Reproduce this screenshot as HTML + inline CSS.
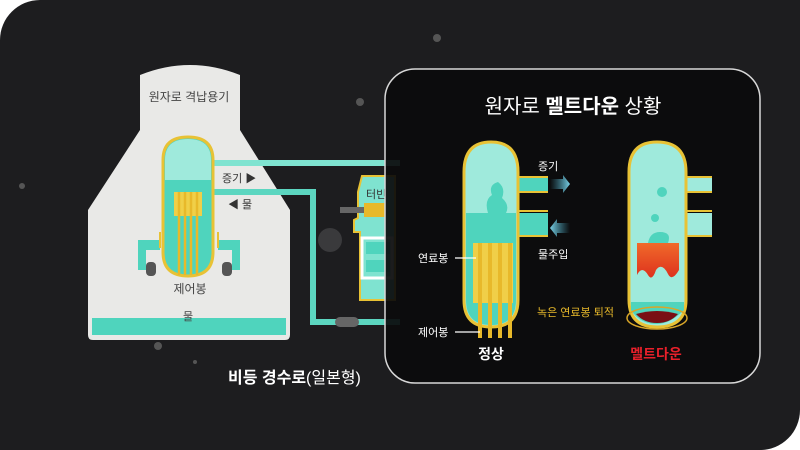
<!DOCTYPE html>
<html><head><meta charset="utf-8"><style>
html,body{margin:0;padding:0;background:#fff;}
#c{position:relative;width:800px;height:450px;overflow:hidden;background:#fff;}
#bg{position:absolute;left:0;top:0;width:800px;height:450px;background:#1d1d1f;border-radius:40px 0 40px 0;overflow:hidden;}
svg text{font-family:"Liberation Sans","Noto Sans CJK KR",sans-serif;}
</style></head><body><div id="c"><div id="bg">
<svg width="800" height="450" viewBox="0 0 800 450" xmlns="http://www.w3.org/2000/svg">
<defs><filter id="bl"><feGaussianBlur stdDeviation="3"/></filter>
<linearGradient id="ar" x1="0" x2="1"><stop offset="0" stop-color="#3fa0b8" stop-opacity="0"/><stop offset="1" stop-color="#7ad0e6"/></linearGradient>
<linearGradient id="al" x1="1" x2="0"><stop offset="0" stop-color="#3fa0b8" stop-opacity="0"/><stop offset="1" stop-color="#7ad0e6"/></linearGradient>
<linearGradient id="fr" x1="0" y1="0" x2="0" y2="1"><stop offset="0" stop-color="#f06a2a"/><stop offset="1" stop-color="#d8211a"/></linearGradient></defs>
<!-- dots -->
<g fill="#555"><circle cx="437" cy="38" r="4"/><circle cx="360" cy="102" r="4"/><circle cx="22" cy="186" r="3"/><circle cx="158" cy="346" r="4"/><circle cx="330" cy="240" r="12" fill="#3a3a3c"/><circle cx="195" cy="362" r="2"/></g>
<!-- containment -->
<path d="M140 75 Q190 55 240 75 L240 130 L290 210 L290 335 Q290 340 285 340 L93 340 Q88 340 88 335 L88 210 L140 130 Z" fill="#e9e9e7"/>
<rect x="92" y="318" width="194" height="17" fill="#4fd4bd"/>
<text x="189" y="101" font-size="12" fill="#444" text-anchor="middle">원자로 격납용기</text>
<!-- pipes -->
<path d="M213 163 L400 163" stroke="#7fe3d0" stroke-width="6" fill="none"/>
<path d="M213 192 L313 192 L313 322 L400 322" stroke="#5cd6c0" stroke-width="6" fill="none"/>
<rect x="335" y="317" width="24" height="10" rx="5" fill="#666"/>
<text x="222" y="182" font-size="11" fill="#333">증기 ▶</text>
<text x="228" y="208" font-size="11" fill="#333">◀ 물</text>
<!-- side brackets -->
<path d="M138 240 L160 240 L160 250 L146 250 L146 270 L138 270 Z M240 240 L218 240 L218 250 L232 250 L232 270 L240 270 Z" fill="#4fd4bd"/>
<path d="M160 232 L160 248 M218 232 L218 248" stroke="#e8c235" stroke-width="2"/>
<rect x="146" y="262" width="10" height="14" rx="4" fill="#555"/><rect x="222" y="262" width="10" height="14" rx="4" fill="#555"/>
<!-- reactor vessel -->
<path d="M163 160 Q163 137 188 137 Q213 137 213 160 L213 252 Q213 276 188 276 Q163 276 163 252 Z" fill="#4fd4bd" stroke="#e8c235" stroke-width="3"/>
<path d="M165 160 Q165 139 188 139 Q211 139 211 160 L211 180 L165 180 Z" fill="#9feadc"/>
<rect x="174" y="192" width="28" height="24" fill="#f0cf48"/>
<g stroke="#e8b92a" stroke-width="2.5"><line x1="179" y1="192" x2="179" y2="275"/><line x1="185" y1="192" x2="185" y2="275"/><line x1="191" y1="192" x2="191" y2="275"/><line x1="197" y1="192" x2="197" y2="275"/></g>
<text x="190" y="293" font-size="12" fill="#444" text-anchor="middle">제어봉</text>
<text x="188" y="320" font-size="11" fill="#444" text-anchor="middle">물</text>
<!-- turbine -->
<path d="M362 176 L395 176 L395 300 L360 300 L360 232 L354 232 L354 220 L358 218 L358 192 Z" fill="#7fe3d0" stroke="#e8c235" stroke-width="2"/>
<rect x="340" y="207" width="30" height="6" fill="#666"/>
<rect x="364" y="203" width="22" height="14" fill="#e8b92a"/>
<text x="366" y="198" font-size="11" fill="#333">터빈</text>
<rect x="362" y="238" width="30" height="40" fill="none" stroke="#fff" stroke-width="3"/>
<rect x="366" y="242" width="24" height="12" fill="#4fd4bd"/><rect x="366" y="260" width="24" height="12" fill="#4fd4bd"/>
<!-- caption -->
<text x="228" y="383" font-size="16" fill="#fff"><tspan font-weight="bold">비등 경수로</tspan>(일본형)</text>
<!-- panel -->
<rect x="385" y="69" width="375" height="314" rx="30" fill="#0b0b0c" fill-opacity="0.93" stroke="#d8d8d8" stroke-width="1.5"/>
<text x="573" y="113" font-size="20" fill="#fff" text-anchor="middle">원자로 <tspan font-weight="bold">멜트다운</tspan> 상황</text>
<!-- left vessel -->
<path d="M518 177 L548 177 L548 192 L518 192 Z M518 213 L548 213 L548 235 L518 235 Z" fill="#4fd4bd"/>
<path d="M518 177 L548 177 M518 192 L548 192" stroke="#e8c235" stroke-width="2"/>
<path d="M518 211 L548 211 M518 236 L548 236" stroke="#e8c235" stroke-width="2"/>
<path d="M464 172 Q464 142 491 142 Q518 142 518 172 L518 300 Q518 327 491 327 Q464 327 464 300 Z" fill="#9feadc" stroke="#e8c235" stroke-width="3"/>
<path d="M466 213 L516 213 L516 300 Q516 325 491 325 Q466 325 466 300 Z" fill="#4fd4bd"/>
<path d="M488 213 Q484 200 492 195 Q488 185 498 182 Q506 188 502 198 Q510 205 506 213 Z" fill="#4fd4bd"/>
<rect x="473" y="243" width="40" height="60" fill="#f0cf48"/>
<g stroke="#e8b92a" stroke-width="4"><line x1="480" y1="243" x2="480" y2="338"/><line x1="490" y1="243" x2="490" y2="338"/><line x1="500" y1="243" x2="500" y2="338"/><line x1="510" y1="243" x2="510" y2="338"/></g>
<path d="M550 179 L563 179 L563 175 L570 184 L563 193 L563 189 L550 189 Z" fill="url(#ar)"/>
<path d="M570 223 L557 223 L557 219 L550 228 L557 237 L557 233 L570 233 Z" fill="url(#al)"/>
<text x="538" y="170" font-size="11" fill="#fff">증기</text>
<text x="538" y="258" font-size="11" fill="#fff">물주입</text>
<text x="418" y="262" font-size="11" fill="#fff">연료봉</text><line x1="455" y1="258" x2="476" y2="258" stroke="#fff" stroke-width="1.2"/>
<text x="418" y="336" font-size="11" fill="#fff">제어봉</text><line x1="455" y1="332" x2="480" y2="332" stroke="#fff" stroke-width="1.2"/>
<text x="491" y="359" font-size="14" font-weight="bold" fill="#fff" text-anchor="middle">정상</text>
<!-- right vessel -->
<path d="M686 177 L712 177 L712 192 L686 192 Z M686 213 L712 213 L712 235 L686 235 Z" fill="#9feadc"/>
<path d="M686 177 L712 177 M686 192 L712 192 M686 211 L712 211 M686 236 L712 236" stroke="#e8c235" stroke-width="2"/>
<path d="M629 172 Q629 142 657 142 Q686 142 686 172 L686 300 Q686 327 657 327 Q629 327 629 300 Z" fill="#9feadc" stroke="#e8c235" stroke-width="3"/>
<circle cx="662" cy="192" r="5" fill="#4fd4bd"/><circle cx="655" cy="218" r="4" fill="#4fd4bd"/>
<path d="M648 243 Q650 232 660 232 Q672 232 668 243 Z" fill="#4fd4bd"/>
<rect x="637" y="243" width="42" height="45" fill="url(#fr)"/>
<path d="M637 288 L637 275 Q642 265 648 275 Q652 282 656 270 Q662 262 668 274 Q672 282 679 270 L679 300 L637 300 Z" fill="#9feadc"/>
<path d="M631 302 L684 302 L684 310 Q670 324 657 324 Q640 324 631 310 Z" fill="#4fd4bd"/>
<path d="M636 314 Q657 308 678 314 Q670 323 657 323 Q644 323 636 314 Z" fill="#7a0f14"/>
<ellipse cx="657" cy="318" rx="30" ry="11" fill="none" stroke="#d8a628" stroke-width="1.5"/>
<text x="537" y="316" font-size="11" fill="#e8b92a">녹은 연료봉 퇴적</text>
<text x="656" y="359" font-size="14" font-weight="bold" fill="#e8202a" text-anchor="middle">멜트다운</text>
</svg></div></div></body></html>
